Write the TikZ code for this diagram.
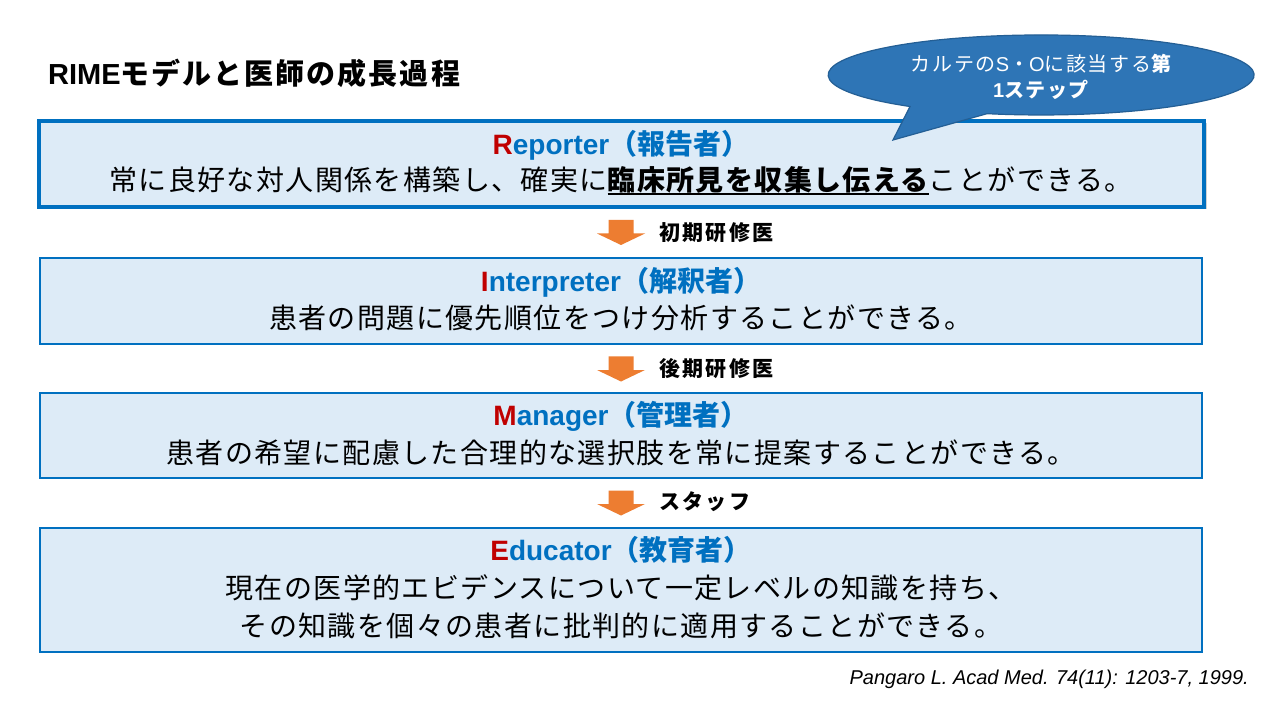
\documentclass[tikz,border=0pt]{standalone}
\usepackage{fontspec}
\setmainfont{Liberation Sans}
\newfontfamily\jp{Noto Sans CJK JP}
\newfontfamily\jpw{Noto Sans CJK JP}[LetterSpace=5]
\newfontfamily\jpt{Noto Sans CJK JP}[LetterSpace=7]
\newfontfamily\jpl{Noto Sans CJK JP}[LetterSpace=11]
\newfontfamily\jpc{Noto Sans CJK JP}[LetterSpace=8]
\usetikzlibrary{shadows}
\definecolor{boxblue}{HTML}{0070C0}
\definecolor{boxfill}{HTML}{DDEBF7}
\definecolor{rred}{HTML}{C00000}
\definecolor{hblue}{HTML}{0070C0}
\definecolor{orangec}{HTML}{ED7D31}
\definecolor{callfill}{HTML}{2E75B6}
\definecolor{callline}{HTML}{245F95}
\newcommand\myul[1]{\setbox0\hbox{#1}\rlap{\rule[-4.5pt]{\wd0}{1.8pt}}\box0}
\newcommand\bodysize{\fontsize{28}{34}\selectfont}
\tikzset{
  stagebox/.style={draw=boxblue, line width=2.5pt, fill=boxfill, inner sep=0pt, minimum width=1162pt},
  headtxt/.style={inner sep=0pt, font=\bodysize\bfseries, text=hblue},
  bodytxt/.style={inner sep=0pt, font=\bodysize\jpw, text=black},
  steplabel/.style={inner sep=0pt, anchor=west, font=\fontsize{21}{25}\selectfont\bfseries\jpl, text=black},
  blockarrow/.style={fill=orangec},
}
\newcommand\downarrowat[1]{%
  \fill[blockarrow, shift={(621,#1)}] (-12.5,0) -- (12.5,0) -- (12.5,13.5) -- (24,13.5) -- (0,25) -- (-24,13.5) -- (-12.5,13.5) -- cycle;}
\begin{document}
\begin{tikzpicture}[x=1pt,y=-1pt]
\useasboundingbox (0,0) rectangle (1264,711);
\fill[white] (0,0) rectangle (1264,711);

% title
\node[anchor=west, inner sep=0pt] (title) at (48,73) {\fontsize{29}{34}\selectfont\bfseries RIME{\jpt モデルと医師の成長過程}};

% boxes
\node[stagebox, line width=3.5pt, minimum width=1165pt, minimum height=86pt,
      drop shadow={shadow xshift=2.5pt, shadow yshift=-2.5pt, fill=black!35}] (b1) at (621.5,164) {};
\node[stagebox, minimum height=86pt] (b2) at (621,301) {};
\node[stagebox, minimum height=85pt] (b3) at (621,435.5) {};
\node[stagebox, minimum height=124pt] (b4) at (621,590) {};

% callout
\path[fill=callfill, draw=callline, line width=1.2pt]
  (893,140) -- (910,106.5) arc[start angle=128, end angle=464.7, x radius=213, y radius=40] -- cycle;
\node[inner sep=0pt, text=white] (c1) at (1041,64) {\fontsize{20}{24}\selectfont{\jpc カルテの}S{\jpc ・}O{\jpc に該当する{\bfseries 第}}};
\node[inner sep=0pt, text=white] (c2) at (1041,90) {\fontsize{20}{24}\selectfont\bfseries 1{\jpc ステップ}};

% texts
\node[headtxt] (h1) at (621,145) {\textcolor{rred}{R}eporter{\jp （報告者）}};
\node[bodytxt] (t1) at (621,181) {常に良好な対人関係を構築し、確実に\myul{\bfseries 臨床所見を収集し伝える}ことができる。};

\node[headtxt] (h2) at (621,282) {\textcolor{rred}{I}nterpreter{\jp （解釈者）}};
\node[bodytxt] (t2) at (621,318) {患者の問題に優先順位をつけ分析することができる。};

\node[headtxt] (h3) at (621,416) {\textcolor{rred}{M}anager{\jp （管理者）}};
\node[bodytxt] (t3) at (621,453) {患者の希望に配慮した合理的な選択肢を常に提案することができる。};

\node[headtxt] (h4) at (621,550) {\textcolor{rred}{E}ducator{\jp （教育者）}};
\node[bodytxt] (t4) at (621,588) {現在の医学的エビデンスについて一定レベルの知識を持ち、};
\node[bodytxt] (t5) at (621,626) {その知識を個々の患者に批判的に適用することができる。};

% arrows and labels
\downarrowat{220}
\node[steplabel] (l1) at (659,233) {初期研修医};
\downarrowat{356.5}
\node[steplabel] (l2) at (659,369) {後期研修医};
\downarrowat{490.5}
\node[steplabel] (l3) at (659,502) {スタッフ};

% citation
\node[anchor=east, inner sep=0pt] (cite) at (1249,679) {\fontsize{20}{24}\selectfont\itshape Pangaro L. Acad Med. 74(11): 1203-7, 1999.};
\end{tikzpicture}
\end{document}
